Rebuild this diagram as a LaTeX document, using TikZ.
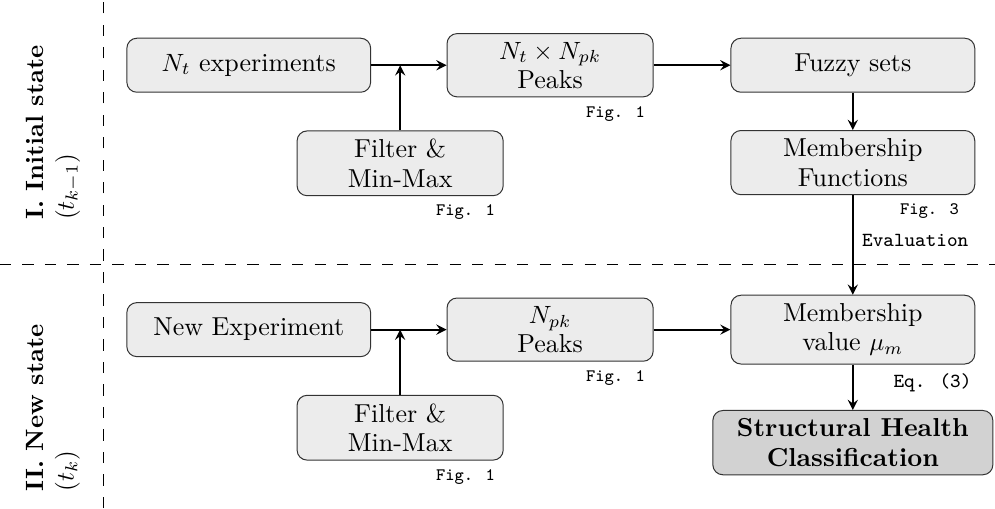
\documentclass[tikz,border=0pt]{standalone}
\usepackage{xcolor}
\usepackage{tikz}
\usetikzlibrary{shapes.geometric, arrows}
\tikzstyle{block} = [rectangle, rounded corners, draw=black!80, fill=gray!15, minimum height=0.76cm, align=center, font=\fontsize{10.4}{11.7}\selectfont]
\tikzstyle{wideblock} = [block, minimum width=3.43cm]
\tikzstyle{narrowblock} = [block, minimum width=2.90cm]
\tikzstyle{outcome} = [block, fill=gray!35, minimum width=3.94cm, font=\fontsize{10.4}{11.7}\selectfont\bfseries]
\tikzstyle{arrow} = [thick,->,>=stealth]
\tikzstyle{figref} = [font=\ttfamily\scriptsize, anchor=north east]
\tikzstyle{splitline} = [dash pattern=on 4.5pt off 4.5pt]
\usepackage{amssymb,amsmath}

\begin{document}
\begin{tikzpicture}
            \useasboundingbox (0,0) rectangle (14,7.148);
            % the two phases
            \draw[splitline] (1.45,0) -- (1.45,7.148);
            \draw[splitline] (0,3.42) -- (14,3.42);
            \node[rotate=90, anchor=west, align=left] (initial) at (0.75,3.93) {\textbf{I. Initial state}\\$(t_{k-1})$};
            \node[rotate=90, anchor=west, align=left] (newstate) at (0.75,0.11) {\textbf{II. New state}\\$(t_{k})$};
            % phase I
            \node[wideblock] (exp1) at (3.50,6.23) {$N_t$ experiments};
            \node[narrowblock] (filt1) at (5.63,4.85) {Filter \&\\Min-Max};
            \node[narrowblock] (peaks1) at (7.74,6.23) {$N_t\times N_{pk}$\\Peaks};
            \node[wideblock] (fuzzy) at (12.0,6.23) {Fuzzy sets};
            \node[wideblock] (memfun) at (12.0,4.86) {Membership\\Functions};
            \node[figref] at (filt1.south east) {Fig. 1};
            \node[figref] at (peaks1.south east) {Fig. 1};
            \node[figref, xshift=-3pt] at (memfun.south east) {Fig. 3};
            % phase II
            \node[wideblock] (exp2) at (3.50,2.51) {New Experiment};
            \node[narrowblock] (filt2) at (5.63,1.13) {Filter \&\\Min-Max};
            \node[narrowblock] (peaks2) at (7.74,2.51) {$N_{pk}$\\Peaks};
            \node[wideblock] (memval) at (12.0,2.51) {Membership\\value $\mu_m$};
            \node[outcome] (shc) at (12.0,0.92) {Structural Health\\Classification};
            \node[figref] at (filt2.south east) {Fig. 1};
            \node[figref] at (peaks2.south east) {Fig. 1};
            \node[figref, xshift=2pt] at (memval.south east) {\footnotesize Eq. (3)};
            % connectors
            \draw [arrow] (exp1.east) -- (peaks1.west);
            \draw [arrow] (filt1.north) -- (filt1.north |- exp1.east);
            \draw [arrow] (peaks1.east) -- (fuzzy.west);
            \draw [arrow] (fuzzy.south) -- (memfun.north);
            \draw [arrow] (memfun.south) -- (memval.north) node[pos=0.45, right, font=\ttfamily\footnotesize] {Evaluation};
            \draw [arrow] (exp2.east) -- (peaks2.west);
            \draw [arrow] (filt2.north) -- (filt2.north |- exp2.east);
            \draw [arrow] (peaks2.east) -- (memval.west);
            \draw [arrow] (memval.south) -- (shc.north);
        \end{tikzpicture}
\end{document}
